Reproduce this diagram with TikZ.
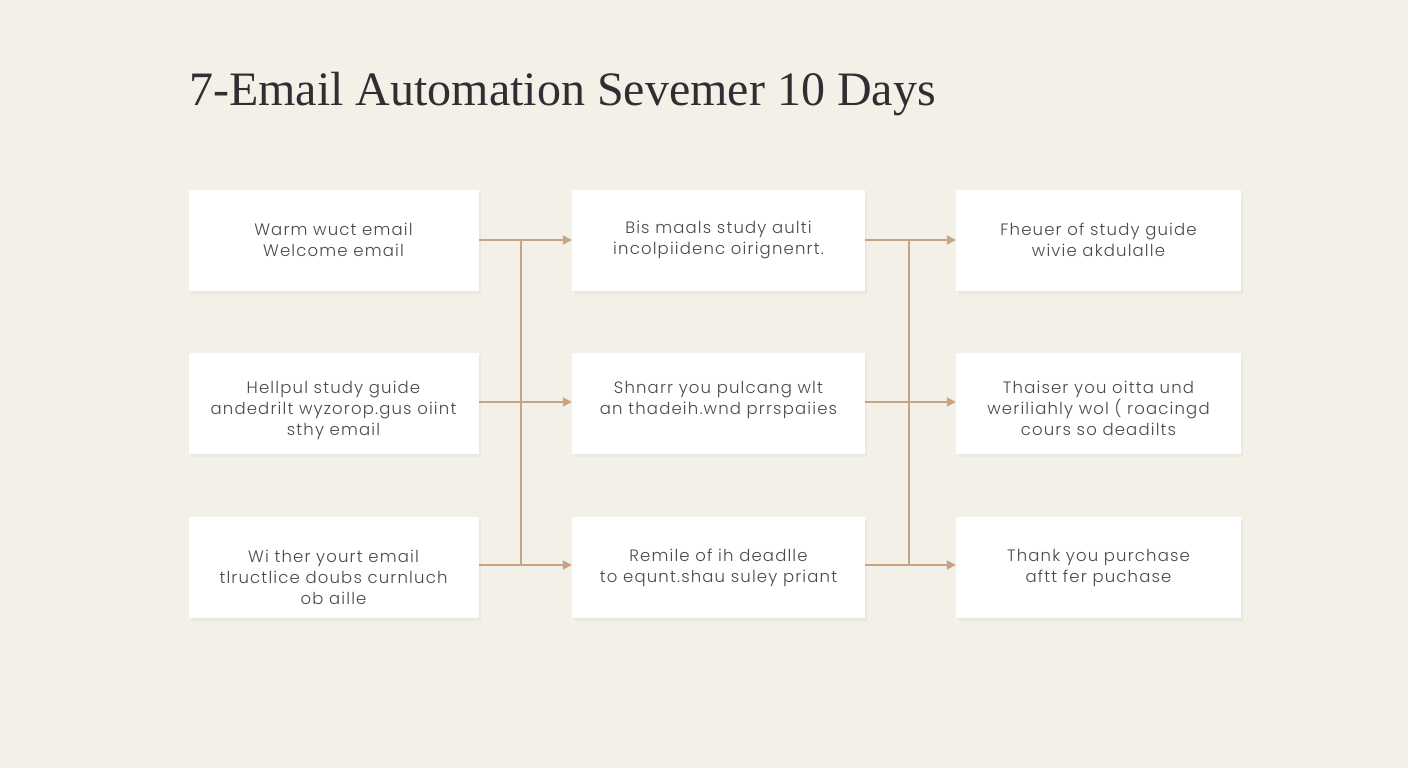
\documentclass[tikz,border=0pt]{standalone}
\usepackage{fontspec}
\setmainfont{Liberation Serif}
\newfontfamily\boxfont[LetterSpace=7]{Poppins Light}
\usetikzlibrary{arrows.meta,shadows}
\definecolor{bg}{HTML}{F3F1E7}
\definecolor{conn}{HTML}{C7A283}
\definecolor{txt}{HTML}{4A4A4A}
\definecolor{ttl}{HTML}{2F2F33}
\tikzset{
  card/.style={draw=none, fill=white, minimum width=290pt, minimum height=101pt,
    drop shadow={opacity=0.07, shadow xshift=2pt, shadow yshift=-3pt}},
  cardtext/.style={align=center, font=\boxfont\fontsize{16.5}{21}\selectfont, text=txt, inner sep=0},
  link/.style={draw=conn, line width=1.8pt, -{Triangle[length=9pt,width=9pt]}},
  vline/.style={draw=conn, line width=1.8pt}
}
\begin{document}
\begin{tikzpicture}[x=1pt,y=-1pt]
\fill[bg] (0,0) rectangle (1408,768);
\useasboundingbox (0,0) rectangle (1408,768);
\node[anchor=base west, text=ttl, font=\fontsize{48}{54}\selectfont, inner sep=0] (title) at (189,105) {7-Email Automation Sevemer 10 Days};

\node[card] (a1) at (333.5,240) {};
\node[card] (a2) at (333.5,403) {};
\node[card] (a3) at (333.5,567.5) {};
\node[card, minimum width=293pt] (b1) at (718.5,240) {};
\node[card, minimum width=293pt] (b2) at (718.5,403) {};
\node[card, minimum width=293pt] (b3) at (718.5,567.5) {};
\node[card, minimum width=285pt] (c1) at (1098.5,240) {};
\node[card, minimum width=285pt] (c2) at (1098.5,403) {};
\node[card, minimum width=285pt] (c3) at (1098.5,567.5) {};

\node[cardtext] (a1t) at (333.5,240) {Warm wuct email\\Welcome email};
\node[cardtext] (a2t) at (333.5,410) {Hellpul study guide\\andedrilt wyzorop.gus oiint\\sthy email};
\node[cardtext] (a3t) at (333.5,577) {Wi ther yourt email\\tlructlice doubs curnluch\\ob aille};
\node[cardtext] (b1t) at (718.5,240) {Bis maals study aulti\\incolpiidenc oirignenrt.};
\node[cardtext] (b2t) at (718.5,400) {Shnarr you pulcang wlt\\an thadeih.wnd prrspaiies};
\node[cardtext] (b3t) at (718.5,567.5) {Remile of ih deadlle\\to equnt.shau suley priant};
\node[cardtext] (c1t) at (1098.5,240) {Fheuer of study guide\\wivie akdulalle};
\node[cardtext] (c2t) at (1098.5,408) {Thaiser you oitta und\\weriliahly wol ( roacingd\\cours so deadilts};
\node[cardtext] (c3t) at (1098.5,568) {Thank you purchase\\aftt fer puchase};

\coordinate (v1t) at (521,240);
\coordinate (v1b) at (521,565);
\coordinate (v2t) at (909,240);
\coordinate (v2b) at (909,565);
\draw[vline] (v1t) -- (v1b);
\draw[vline] (v2t) -- (v2b);

\draw[link] (a1.east |- 0,240) -- (b1.west |- 0,240);
\draw[link] (a2.east |- 0,402) -- (b2.west |- 0,402);
\draw[link] (a3.east |- 0,565) -- (b3.west |- 0,565);
\draw[link] (b1.east |- 0,240) -- (c1.west |- 0,240);
\draw[link] (b2.east |- 0,402) -- (c2.west |- 0,402);
\draw[link] (b3.east |- 0,565) -- (c3.west |- 0,565);
\end{tikzpicture}
\end{document}
